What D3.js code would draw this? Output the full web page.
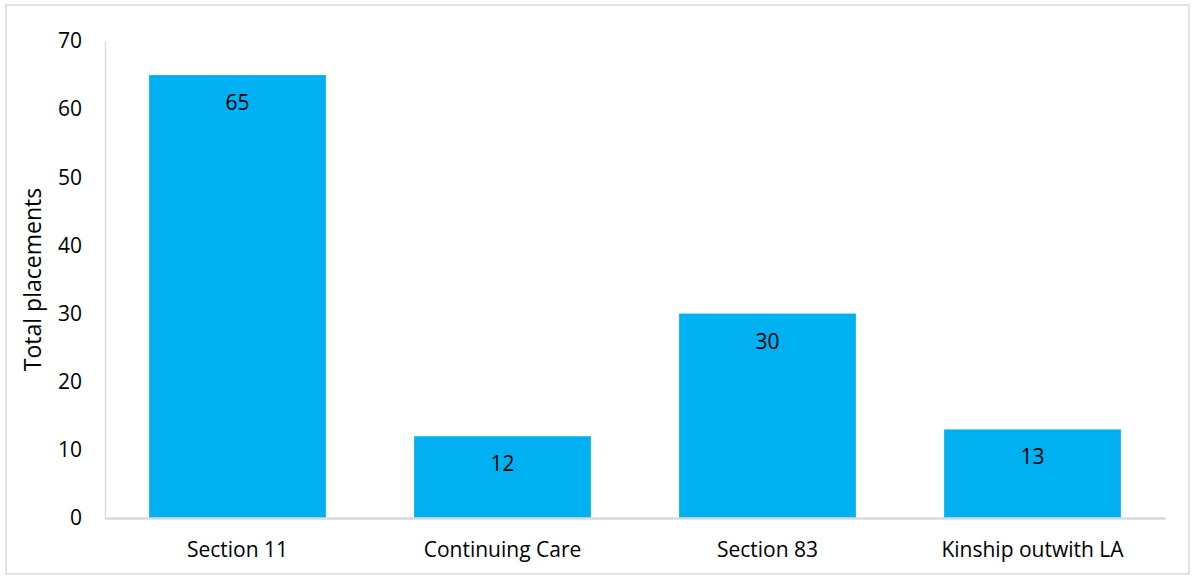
<!DOCTYPE html>
<html>
<head>
<meta charset="utf-8">
<script src="https://cdn.jsdelivr.net/npm/d3@7"></script>
<style>
  html, body { margin: 0; padding: 0; background: #fff; }
  svg { display: block; }
  text { font-family: "Open Sans", sans-serif; fill: #000; }
</style>
</head>
<body>
<svg id="chart" width="1195" height="578"></svg>
<script>
const categories = ["Section 11", "Continuing Care", "Section 83", "Kinship outwith LA"];
const values = [65, 12, 30, 13];
const yTicks = [0, 10, 20, 30, 40, 50, 60, 70];
const yTitle = "Total placements";

(function () {
const FONT = "'Open Sans', sans-serif";
const FS = 21;
const svg = d3.select("#chart");
const W = 1195, H = 578;
const mLeft = 105, mRight = 1165, mTop = 41, mBottom = 518;

svg.append("rect")
  .attr("x", 6).attr("y", 5).attr("width", W - 12).attr("height", H - 9)
  .attr("fill", "#fff").attr("stroke", "#d9d9d9").attr("stroke-width", 1.5);

const x = d3.scaleBand().domain(categories).range([mLeft, mRight]).paddingInner(0.333).paddingOuter(0.1665);
const y = d3.scaleLinear().domain([0, 70]).range([mBottom, mTop]);

// bars
svg.selectAll("rect.bar").data(values).enter().append("rect")
  .attr("class", "bar")
  .attr("x", (d, i) => x(categories[i]))
  .attr("y", d => y(d))
  .attr("width", x.bandwidth())
  .attr("height", d => y(0) - y(d))
  .attr("fill", "#00b0f0");

// value labels
svg.selectAll("text.val").data(values).enter().append("text")
  .attr("class", "val")
  .attr("x", (d, i) => x(categories[i]) + x.bandwidth() / 2)
  .attr("y", d => y(d) + 35)
  .attr("text-anchor", "middle")
  .attr("font-size", FS)
  .text(d => d);

// y axis
const yAxis = d3.axisLeft(y).tickValues(yTicks).tickSize(0).tickPadding(23);
const gy = svg.append("g").attr("transform", `translate(${mLeft},0)`).call(yAxis);
gy.select(".domain").attr("stroke", "#d9d9d9").attr("stroke-width", 1.5);
gy.selectAll("text").attr("font-size", FS).attr("font-family", FONT).attr("fill", "#000");

// x axis
const xAxis = d3.axisBottom(x).tickSize(0).tickPadding(24);
const gx = svg.append("g").attr("transform", `translate(0,${mBottom})`).call(xAxis);
gx.select(".domain").attr("stroke", "#d9d9d9").attr("stroke-width", 2.5);
gx.selectAll("text").attr("font-size", FS).attr("font-family", FONT).attr("fill", "#000");

// y title
svg.append("text")
  .attr("transform", `translate(41,${(mTop + mBottom) / 2}) rotate(-90)`)
  .attr("text-anchor", "middle")
  .attr("font-size", 23)
  .text(yTitle);
})();
</script>
</body>
</html>
